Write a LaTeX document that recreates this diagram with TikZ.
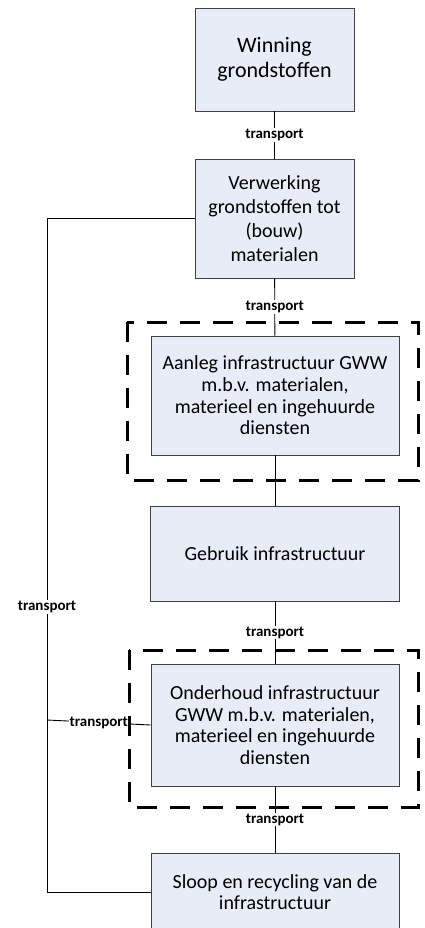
\documentclass[tikz,border=0pt]{standalone}
\usepackage{fontspec}
\setmainfont{Carlito}
\definecolor{blokvul}{RGB}{231,236,246}
\definecolor{blokrand}{RGB}{64,64,64}
\tikzset{
	blok/.style={draw=blokrand, fill=blokvul, line width=0.9pt, align=center, inner sep=0pt, font=\fontsize{20}{21.7}\selectfont},
	kader/.style={line width=3pt, dash pattern=on 20pt off 13pt},
	lijn/.style={line width=0.9pt},
	vervoer/.style={fill=white, inner sep=1pt, font=\bfseries\fontsize{15}{17}\selectfont}
}

\begin{document}
\begin{tikzpicture}[x=1pt, y=-1pt]
			%%%%% START %%%%%
			\useasboundingbox (0, 0) rectangle (424, 928);
			
			\node[blok, minimum width=159pt, minimum height=103pt, font=\fontsize{22}{25}\selectfont] (winning) at (274.5, 59.5) {Winning\\grondstoffen};
			\node[blok, minimum width=159pt, minimum height=119pt, font=\fontsize{20}{24}\selectfont] (verwerking) at (274.5, 218.5) {Verwerking\\grondstoffen tot\\(bouw)\\materialen};
			\node[blok, minimum width=248pt, minimum height=119pt] (aanleg) at (275, 395.5) {Aanleg infrastructuur GWW\\m.b.v. materialen,\\materieel en ingehuurde\\diensten};
			\node[blok, minimum width=249pt, minimum height=95pt] (gebruik) at (275, 553.5) {Gebruik infrastructuur};
			\node[blok, minimum width=248pt, minimum height=122pt] (onderhoud) at (275, 725) {Onderhoud infrastructuur\\GWW m.b.v. materialen,\\materieel en ingehuurde\\diensten};
			\node[blok, minimum width=248pt, minimum height=78pt] (sloop) at (275, 892) {Sloop en recycling van de\\infrastructuur};
			
			\draw[lijn] (winning) -- node[vervoer] {transport} (verwerking);
			\draw[lijn] (verwerking) -- node[vervoer] {transport} (aanleg);
			\draw[lijn] (aanleg) -- (gebruik);
			\draw[lijn] (gebruik) -- node[vervoer] {transport} (onderhoud);
			\draw[lijn] (onderhoud) -- node[vervoer] {transport} (sloop);
			
			% terugvoer naar sloop
			\coordinate (hoekboven) at (47, 218.5);
			\coordinate (hoekonder) at (47, 892);
			\coordinate (aftak) at (47, 720);
			\draw[lijn] (verwerking.west) -- (hoekboven) -- node[vervoer, pos=0.577] {transport} (hoekonder) -- (sloop.west);
			\draw[lijn] (aftak) -- node[vervoer] {transport} (onderhoud.west);
			
			\draw[kader] (127, 322) rectangle (418, 480);
			\draw[kader] (129, 650) rectangle (418, 807);
			
			%%%%% END %%%%%
\end{tikzpicture}
\end{document}
